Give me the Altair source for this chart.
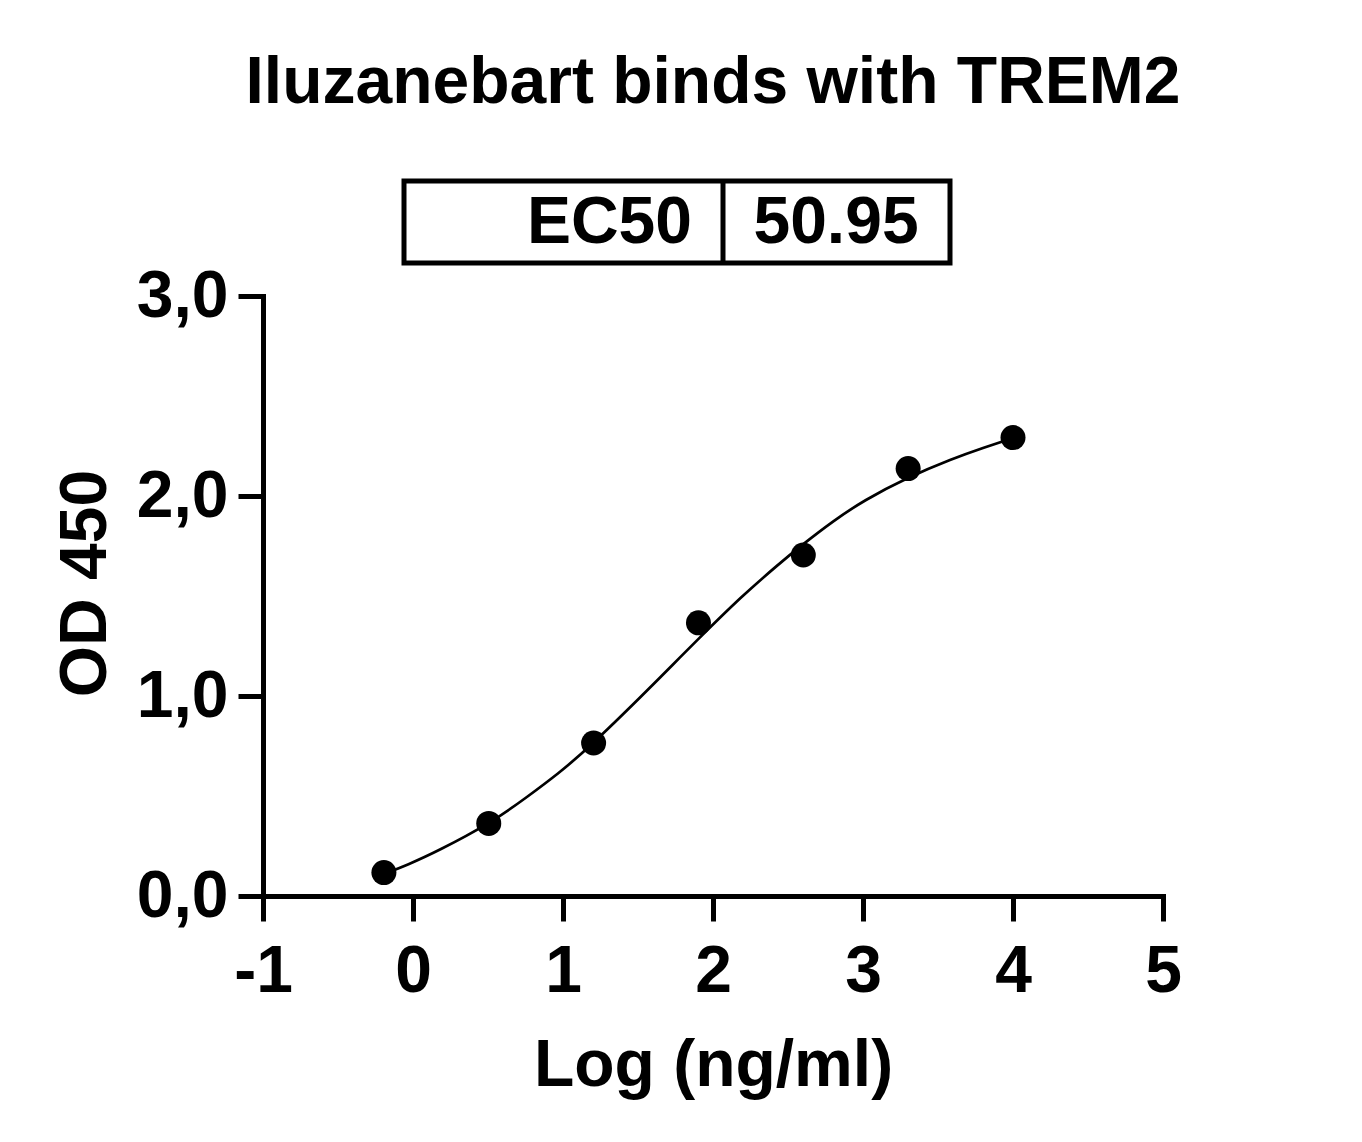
import altair as alt
import pandas as pd

# ---- data ----
# measured points (log10 concentration, OD450)
point_x = [-0.194, 0.505, 1.204, 1.903, 2.602, 3.301, 4.0]
point_y = [0.117, 0.363, 0.765, 1.366, 1.705, 2.137, 2.292]

# fitted curve
curve_x = [-0.194, -0.03, 0.19, 0.5, 0.75, 0.97, 1.2, 1.51, 1.73, 1.9,
           2.18, 2.42, 2.6, 2.8, 3.02, 3.3, 3.58, 3.8, 4.0]
curve_y = [0.11, 0.159, 0.236, 0.363, 0.49, 0.615, 0.765, 0.99, 1.155, 1.283,
           1.487, 1.647, 1.758, 1.872, 1.98, 2.09, 2.18, 2.24, 2.29]

x_ticks = [-1, 0, 1, 2, 3, 4, 5]
y_ticks = [0, 1, 2, 3]

table_label = ["EC50"]
table_value = ["50.95"]

title_text = "Iluzanebart binds with TREM2"
x_title = "Log (ng/ml)"
y_title = "OD 450"

FONT = "Liberation Sans, Arial, Helvetica, sans-serif"
FS = 66

points_df = pd.DataFrame({"x": point_x, "y": point_y})
curve_df = pd.DataFrame({"x": curve_x, "y": curve_y})
table_df = pd.DataFrame({"label": table_label, "value": table_value})

x_scale = alt.Scale(domain=[-1, 5], nice=False, zero=False)
y_scale = alt.Scale(domain=[0, 3], nice=False, zero=False)

x_axis = alt.Axis(
    values=x_ticks, labelExpr="'' + datum.value", grid=False,
    tickSize=25, tickWidth=5, domainWidth=5, domainCap="square",
    labelFont=FONT, labelFontSize=FS, labelFontWeight="bold",
    labelPadding=18, labelFlush=False, labelColor="black",
    domainColor="black", tickColor="black",
    title=x_title, titleFont=FONT, titleFontSize=FS, titleFontWeight="bold",
    titleColor="black", titleX=450, titleY=189,
    titleAlign="center", titleBaseline="alphabetic",
)
y_axis = alt.Axis(
    values=y_ticks, labelExpr="replace(format(datum.value, '.1f'), '.', ',')",
    grid=False, tickSize=25, tickWidth=5, domainWidth=5, domainCap="square",
    labelFont=FONT, labelFontSize=FS, labelFontWeight="bold",
    labelPadding=10, labelFlush=False, labelColor="black",
    domainColor="black", tickColor="black",
    title=y_title, titleFont=FONT, titleFontSize=FS, titleFontWeight="bold",
    titleColor="black", titleX=-158, titleY=287,
    titleAlign="center", titleBaseline="alphabetic",
)

curve = alt.Chart(curve_df).mark_line(
    color="black", strokeWidth=2.7, interpolate="natural"
).encode(
    x=alt.X("x:Q", scale=x_scale, axis=x_axis),
    y=alt.Y("y:Q", scale=y_scale, axis=y_axis),
)

points = alt.Chart(points_df).mark_point(
    filled=True, shape="circle", size=625, color="black", opacity=1
).encode(
    x=alt.X("x:Q", scale=x_scale),
    y=alt.Y("y:Q", scale=y_scale),
)

box = alt.Chart(table_df).mark_rect(
    filled=False, stroke="black", strokeWidth=5, strokeJoin="miter"
).encode(
    x=alt.value(141), x2=alt.value(687), y=alt.value(-115), y2=alt.value(-33)
)

divider = alt.Chart(table_df).mark_rule(
    color="black", strokeWidth=5
).encode(
    x=alt.value(460), y=alt.value(-115), y2=alt.value(-33)
)

label_text = alt.Chart(table_df).mark_text(
    font=FONT, fontSize=FS, fontWeight="bold", color="black",
    align="right", baseline="alphabetic"
).encode(
    text="label:N", x=alt.value(429), y=alt.value(-53)
)

value_text = alt.Chart(table_df).mark_text(
    font=FONT, fontSize=FS, fontWeight="bold", color="black",
    align="center", baseline="alphabetic"
).encode(
    text="value:N", x=alt.value(573), y=alt.value(-53)
)

chart = alt.layer(curve, points, box, divider, label_text, value_text).properties(
    width=900,
    height=600,
    title=alt.TitleParams(
        text=title_text, font=FONT, fontSize=FS, fontWeight="bold",
        color="black", anchor="middle", frame="group",
        baseline="alphabetic", offset=10,
    ),
    padding={"left": 255, "top": 288, "right": 180, "bottom": 240},
    autosize=alt.AutoSizeParams(type="none"),
    background="white",
).configure_view(stroke=None)

chart.save("out.html", embed_options={"renderer": "svg", "actions": False})
